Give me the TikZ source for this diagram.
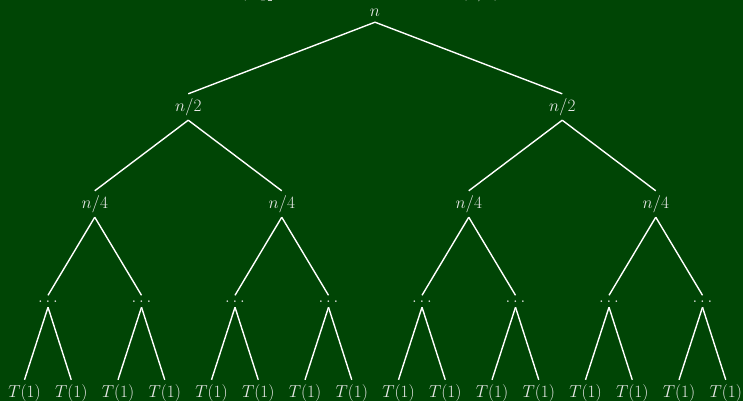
\documentclass[tikz,border=0pt]{standalone}
\definecolor{bg}{RGB}{0,69,5}
\definecolor{txt}{RGB}{232,232,232}
\begin{document}
\begin{tikzpicture}[x=1pt,y=-1pt,
  lbl/.style={text=txt, font=\fontsize{16}{19}\selectfont, inner xsep=2pt, inner ysep=6pt, text height=11pt, text depth=3pt, anchor=base},
  rootlbl/.style={lbl, text depth=0pt, inner ysep=5pt},
  dotlbl/.style={lbl, text height=1.5pt, text depth=0pt, inner ysep=5pt},
  edge/.style={draw=white, line width=1.4pt}]
\fill[bg] (0,0) rectangle (743,401);
\useasboundingbox (0,0) rectangle (743,401);
\node[text=txt, font=\fontsize{16}{19}\selectfont, anchor=base west, inner sep=0pt] (title) at (241,-2.5) {($\log_2 n$ levels, each level halves to ($n/2$)};
\node[rootlbl] (r) at (375,17) {$n$};
\foreach \i in {0,1} \node[lbl] (a\i) at ({188.25+374*\i},111) {$n/2$};
\foreach \i in {0,...,3} \node[lbl] (b\i) at ({94.75+187*\i},208) {$n/4$};
\foreach \i in {0,...,7} \node[dotlbl] (c\i) at ({48+93.5*\i},302) {$\ldots$};
\foreach \i in {0,...,15} \node[lbl] (d\i) at ({24.5+46.75*\i},397) {$T(1)$};
\foreach \i in {0,1} \draw[edge] (r.south) -- (a\i.north);
\foreach \i in {0,...,3} {\pgfmathtruncatemacro\p{\i/2}\draw[edge] (a\p.south) -- (b\i.north);}
\foreach \i in {0,...,7} {\pgfmathtruncatemacro\p{\i/2}\draw[edge] (b\p.south) -- (c\i.north);}
\foreach \i in {0,...,15} {\pgfmathtruncatemacro\p{\i/2}\draw[edge] (c\p.south) -- (d\i.north);}
\end{tikzpicture}
\end{document}
